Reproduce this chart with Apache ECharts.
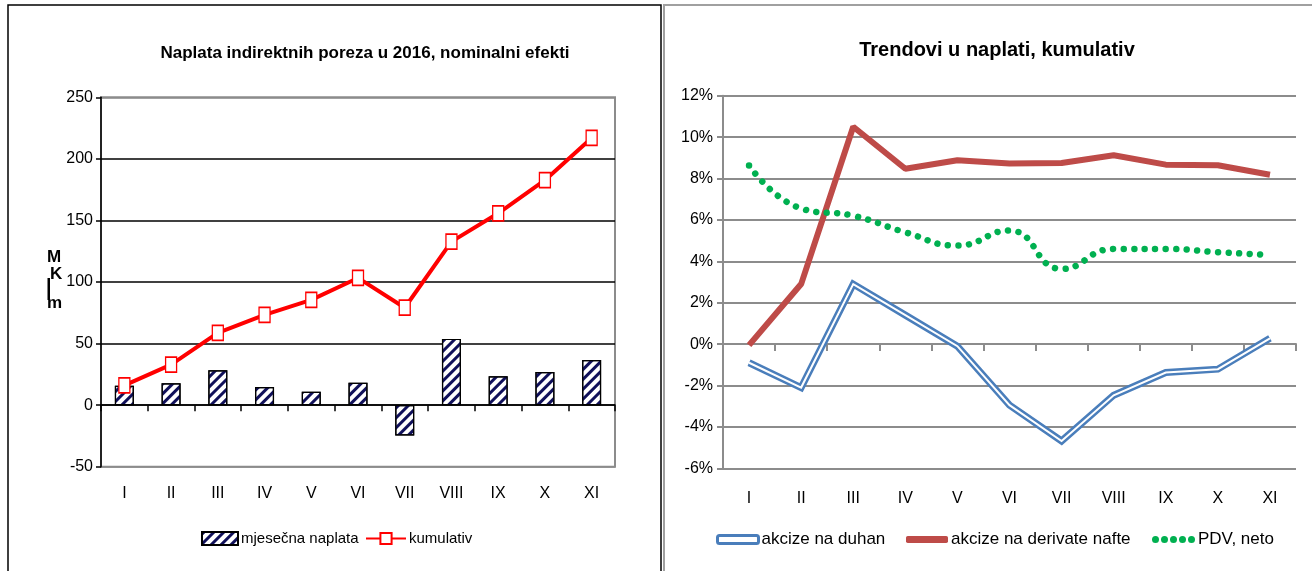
<!DOCTYPE html>
<html><head><meta charset="utf-8">
<script src="https://cdn.jsdelivr.net/npm/echarts@6/dist/echarts.min.js"></script>
<style>html,body{margin:0;padding:0;background:#fff}#c{width:1312px;height:571px}</style>
</head><body><div id="c"></div>
<script>
// ---- data ----
const months = ['I','II','III','IV','V','VI','VII','VIII','IX','X','XI'];
const monthly = [15.8, 17.7, 28.3, 14.7, 10.9, 18.2, -24.7, 53.8, 23.4, 26.9, 36.7];
const cumulative = [16, 32.9, 58.7, 73.3, 85.5, 103.3, 79.1, 132.8, 155.8, 182.7, 217];
const leftTitle = 'Naplata indirektnih poreza u 2016, nominalni efekti';
const rightTitle = 'Trendovi u naplati, kumulativ';
const tobacco = [-0.9, -2.1, 2.9, 1.4, -0.1, -2.95, -4.68, -2.47, -1.37, -1.21, 0.28];
const fuel = [-0.05, 2.9, 10.5, 8.47, 8.88, 8.72, 8.75, 9.12, 8.67, 8.64, 8.18];
const vat = [8.63, 6.55, 6.2, 5.4, 4.76, 5.49, 3.63, 4.6, 4.6, 4.44, 4.31];

const FONT = '"Liberation Sans Narrow", "Arial Narrow", "Liberation Sans", Arial, sans-serif';
const chart = echarts.init(document.getElementById('c'));
const axisText = {color:'#000', fontFamily: FONT, fontSize: 16};
const grayGrid = '#8c8c8c';

const dotsPath = 'path://M0,3.5a3.5,3.5 0 1,0 7,0a3.5,3.5 0 1,0 -7,0M9,3.5a3.5,3.5 0 1,0 7,0a3.5,3.5 0 1,0 -7,0M18,3.5a3.5,3.5 0 1,0 7,0a3.5,3.5 0 1,0 -7,0M27,3.5a3.5,3.5 0 1,0 7,0a3.5,3.5 0 1,0 -7,0M36,3.5a3.5,3.5 0 1,0 7,0a3.5,3.5 0 1,0 -7,0';

function leg(name, left, extra, fs) {
  return Object.assign({data: [name], left: left, top: 526, itemGap: 0,
    textStyle: {fontFamily: FONT, fontSize: fs || 17, color: '#000', padding: [0, 0, 0, -2]}}, extra);
}

chart.setOption({
  animation: false,
  backgroundColor: '#fff',
  textStyle: {fontFamily: FONT},
  title: [
    {text: leftTitle, left: 360, top: 40, textAlign: 'center',
     textStyle: {fontFamily: FONT, fontSize: 17, fontWeight: 'bold', color: '#000'}},
    {text: rightTitle, left: 992, top: 35, textAlign: 'center',
     textStyle: {fontFamily: FONT, fontSize: 20, fontWeight: 'bold', color: '#000'}}
  ],
  graphic: [
    {type: 'rect', shape: {x: 8, y: 5, width: 653, height: 620}, style: {fill: 'none', stroke: '#000', lineWidth: 1.5}, z: 0},
    {type: 'rect', shape: {x: 664, y: 5, width: 700, height: 620}, style: {fill: 'none', stroke: '#a0a0a0', lineWidth: 2}, z: 0},
    {type: 'text', x: 47, y: 249, style: {text: 'M', font: 'bold 17px ' + FONT, fill: '#000'}},
    {type: 'text', x: 50, y: 266, style: {text: 'K', font: 'bold 17px ' + FONT, fill: '#000'}},
    {type: 'rect', shape: {x: 47.5, y: 278, width: 2.5, height: 22}, style: {fill: '#000'}},
    {type: 'text', x: 47, y: 295, style: {text: 'm', font: 'bold 17px ' + FONT, fill: '#000'}}
  ],
  legend: [
    leg({name: 'mjesečna naplata', icon: 'rect'}, 196, {itemWidth: 36, itemHeight: 13}, 15),
    leg('kumulativ', 360, {itemWidth: 40, itemHeight: 14}, 15),
    leg({name: 'akcize na duhan', icon: 'roundRect', itemStyle: {color: '#fff', borderColor: '#4a7ebb', borderWidth: 3}},
      711, {itemWidth: 41, itemHeight: 8}),
    leg({name: 'akcize na derivate nafte', icon: 'roundRect', itemStyle: {color: '#be4b48'}},
      901, {itemWidth: 42, itemHeight: 7}),
    leg({name: 'PDV, neto', icon: dotsPath, itemStyle: {color: '#00b050'}},
      1147, {itemWidth: 43, itemHeight: 7})
  ],
  grid: [
    {left: 101, right: 1312 - 615, top: 97.3, height: 369.4, show: true, borderColor: '#8c8c8c', borderWidth: 2},
    {left: 723, right: 16, top: 95.7, height: 372.6, show: false}
  ],
  xAxis: [
    {type: 'category', gridIndex: 0, data: months, position: 'bottom',
     axisLine: {onZero: true, lineStyle: {color: '#000', width: 1.5}},
     axisTick: {show: true, length: 6, lineStyle: {color: '#000', width: 1.5}},
     axisLabel: {show: false}, splitLine: {show: false}, z: 5},
    {type: 'category', gridIndex: 0, data: months, position: 'bottom',
     axisLine: {show: false, onZero: false}, axisTick: {show: false},
     axisLabel: Object.assign({margin: 19}, axisText)},
    {type: 'category', gridIndex: 1, data: months, position: 'bottom',
     axisLine: {onZero: true, lineStyle: {color: grayGrid, width: 2}},
     axisTick: {show: true, length: 7, lineStyle: {color: grayGrid, width: 2}},
     axisLabel: {show: false}, splitLine: {show: false}},
    {type: 'category', gridIndex: 1, data: months, position: 'bottom',
     axisLine: {show: false, onZero: false}, axisTick: {show: false},
     axisLabel: Object.assign({margin: 22}, axisText)}
  ],
  yAxis: [
    {type: 'value', gridIndex: 0, min: -50, max: 250, interval: 50,
     axisLine: {show: true, lineStyle: {color: '#000', width: 1.5}},
     axisTick: {show: true, length: 5, lineStyle: {color: '#000', width: 1.5}},
     axisLabel: Object.assign({margin: 8}, axisText),
     splitLine: {show: true, lineStyle: {color: ['#8c8c8c', '#000', '#000', '#000', '#000', '#000', '#8c8c8c'], width: 1.5}}},
    {type: 'value', gridIndex: 1, min: -6, max: 12, interval: 2,
     axisLine: {show: true, lineStyle: {color: grayGrid, width: 2}},
     axisTick: {show: true, length: 6, lineStyle: {color: grayGrid, width: 2}},
     axisLabel: Object.assign({margin: 10, formatter: '{value}%'}, axisText),
     splitLine: {show: true, lineStyle: {color: grayGrid, width: 2}}}
  ],
  series: [
    {name: 'mjesečna naplata', type: 'bar', xAxisIndex: 0, yAxisIndex: 0, data: monthly, barWidth: 19,
     itemStyle: {color: '#fff', borderColor: '#000', borderWidth: 1.2,
       decal: {symbol: 'rect', symbolSize: 1, color: '#10105a', dashArrayX: [1, 0], dashArrayY: [2.5, 3.2], rotation: -Math.PI / 4}}},
    {name: 'kumulativ', type: 'line', xAxisIndex: 0, yAxisIndex: 0, data: cumulative, z: 4,
     symbol: 'rect', symbolSize: [11, 15],
     lineStyle: {color: '#ff0000', width: 4},
     itemStyle: {color: '#fff', borderColor: '#ff0000', borderWidth: 1.5}},
    {name: 'akcize na duhan', type: 'line', xAxisIndex: 2, yAxisIndex: 1, data: tobacco,
     symbol: 'none', lineStyle: {color: '#4a7ebb', width: 7, join: 'miter'}, itemStyle: {color: '#4a7ebb'}},
    {name: 'akcize na duhan ', type: 'line', xAxisIndex: 2, yAxisIndex: 1, data: tobacco,
     symbol: 'none', lineStyle: {color: '#fff', width: 2, join: 'miter'}, itemStyle: {color: '#fff'}, silent: true},
    {name: 'akcize na derivate nafte', type: 'line', xAxisIndex: 2, yAxisIndex: 1, data: fuel,
     symbol: 'none', lineStyle: {color: '#be4b48', width: 6}, itemStyle: {color: '#be4b48'}},
    {name: 'PDV, neto', type: 'line', xAxisIndex: 2, yAxisIndex: 1, data: vat, smooth: 0.5,
     symbol: 'none', lineStyle: {color: '#00b050', width: 6.5, type: [0.01, 10.5], cap: 'round'}, itemStyle: {color: '#00b050'}}
  ]
});
</script></body></html>
